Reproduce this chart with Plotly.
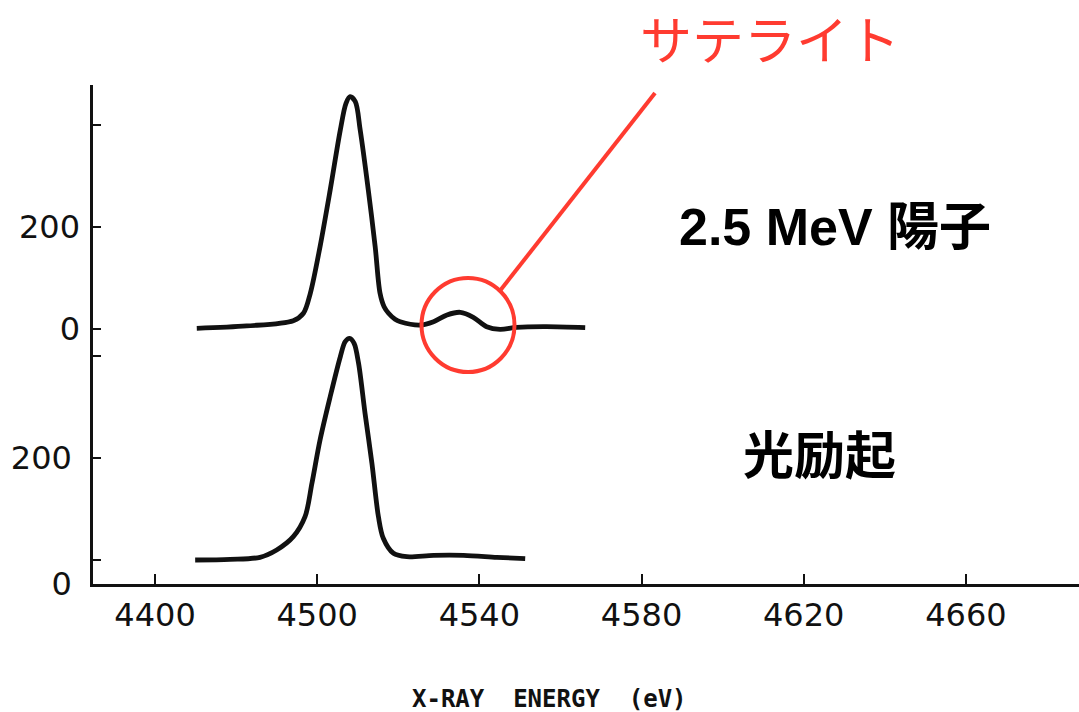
import plotly.graph_objects as go

# X-ray energy (eV) and counts for the two spectra
energy_proton = [4470.3, 4482.6, 4494.1, 4496.6, 4498.3, 4500.7, 4503.2, 4505.7, 4507.1,
                 4508.1, 4509.4, 4510.6, 4512.6, 4514.3, 4515.5, 4516.5, 4517.6, 4519.2,
                 4520.5, 4525.4, 4528.7, 4532.0, 4535.3, 4538.5, 4541.8, 4545.1, 4549.2,
                 4556.6, 4566.1]
counts_proton = [1.4, 5.9, 16.3, 30.8, 70.0, 161.4, 272.5, 390.2, 442.5,
                 455.5, 445.7, 390.2, 272.5, 161.4, 70.0, 43.7, 30.8, 19.0,
                 14.3, 7.8, 14.3, 27.5, 32.7, 22.9, 4.5, -0.6, 3.3,
                 4.5, 2.5]

energy_photon = [4469.9, 4478.5, 4485.9, 4490.0, 4494.1, 4497.0, 4498.7, 4500.7, 4503.2,
                 4505.7, 4506.9, 4508.0, 4509.1, 4510.2, 4511.8, 4513.5, 4515.1, 4516.3,
                 4518.8, 4522.1, 4528.7, 4536.1, 4544.3, 4551.3]
counts_photon = [0.0, 1.4, 5.3, 19.6, 45.7, 84.9, 150.4, 235.3, 320.2,
                 398.6, 428.0, 434.7, 424.9, 385.7, 287.6, 189.6, 84.9, 42.5,
                 13.1, 6.5, 9.2, 9.2, 5.3, 2.5]

# axis ticks
x_tickvals = [4460, 4500, 4540, 4580, 4620, 4660]
x_ticktext = ["4400", "4500", "4540", "4580", "4620", "4660"]

satellite_energy = 4537.2
satellite_counts = 7.8

INK = "#111111"
RED = "#ff3b30"
TICKFONT = dict(family="DejaVu Sans", size=32, color=INK)

fig = go.Figure()
fig.add_trace(go.Scatter(x=energy_photon, y=counts_photon, mode="lines",
                         line=dict(color=INK, width=4.8, shape="spline", smoothing=0.9),
                         xaxis="x", yaxis="y", hoverinfo="skip"))
fig.add_trace(go.Scatter(x=energy_proton, y=counts_proton, mode="lines",
                         line=dict(color=INK, width=4.8, shape="spline", smoothing=0.9),
                         xaxis="x", yaxis="y2", hoverinfo="skip"))

bottom_range = [-47.06, 931.37]
top_range = [-500.0, 478.4]

tick_style = dict(ticks="inside", ticklen=8, tickwidth=2, tickcolor=INK,
                  showgrid=False, zeroline=False, fixedrange=True)

fig.update_layout(
    width=1079, height=712,
    margin=dict(l=93, r=0, t=85, b=128),
    paper_bgcolor="white", plot_bgcolor="white",
    showlegend=False,
    xaxis=dict(range=[4444.7, 4687.9], showline=True, linewidth=2.5, linecolor=INK,
               ticks="inside", ticklen=10, tickwidth=2, tickcolor=INK,
               tickvals=x_tickvals, ticktext=x_ticktext, tickfont=TICKFONT,
               ticklabelstandoff=1, showgrid=False, zeroline=False, fixedrange=True),
    yaxis=dict(range=bottom_range, showline=True, linewidth=2.5, linecolor=INK,
               tickvals=[-46, 0, 200, 400], ticktext=["0", "", "200", ""],
               tickfont=TICKFONT, ticklabelstandoff=12, **tick_style),
    yaxis2=dict(range=top_range, overlaying="y", side="left", anchor="x",
                showline=False, tickvals=[0, 200, 400], ticktext=["0", "200", ""],
                tickfont=TICKFONT, ticklabelstandoff=12, **tick_style),
    yaxis3=dict(range=bottom_range, overlaying="y", side="right", anchor="x",
                showline=False, tickvals=[0, 200, 400], showticklabels=False, **tick_style),
    yaxis4=dict(range=top_range, overlaying="y", side="right", anchor="x",
                showline=False, tickvals=[0, 200], showticklabels=False, **tick_style),
)

# satellite marker: circle around the weak peak and a leader line to its label
fig.add_shape(type="circle", xref="x", yref="y2",
              xsizemode="pixel", ysizemode="pixel",
              xanchor=satellite_energy, yanchor=satellite_counts,
              x0=-46.5, x1=46.5, y0=-47, y1=47,
              line=dict(color=RED, width=4))
fig.add_shape(type="line", xref="paper", yref="paper",
              x0=0.4118, y0=0.5852, x1=0.570, y1=0.984,
              line=dict(color=RED, width=4))

fig.add_annotation(text="サテライト", xref="paper", yref="paper", x=0.6866, y=1.0942,
                   showarrow=False, xanchor="center", yanchor="middle",
                   font=dict(family="Noto Sans CJK JP", size=52, color=RED))
fig.add_annotation(text="<b>2.5 MeV 陽子</b>", xref="paper", yref="paper", x=0.7525, y=0.7154,
                   showarrow=False, xanchor="center", yanchor="middle",
                   font=dict(family="Liberation Sans, Noto Sans CJK JP", size=52, color="black"))
fig.add_annotation(text="<b>光励起</b>", xref="paper", yref="paper", x=0.7373, y=0.2645,
                   showarrow=False, xanchor="center", yanchor="middle",
                   font=dict(family="Noto Sans CJK JP", size=51, color="black"))
fig.add_annotation(text="<b>X-RAY\u00a0\u00a0ENERGY\u00a0\u00a0(eV)</b>", xref="paper", yref="paper",
                   x=0.4625, y=-0.2305, showarrow=False, xanchor="center", yanchor="middle",
                   font=dict(family="DejaVu Sans Mono", size=24, color=INK))

fig.write_html("out.html")
